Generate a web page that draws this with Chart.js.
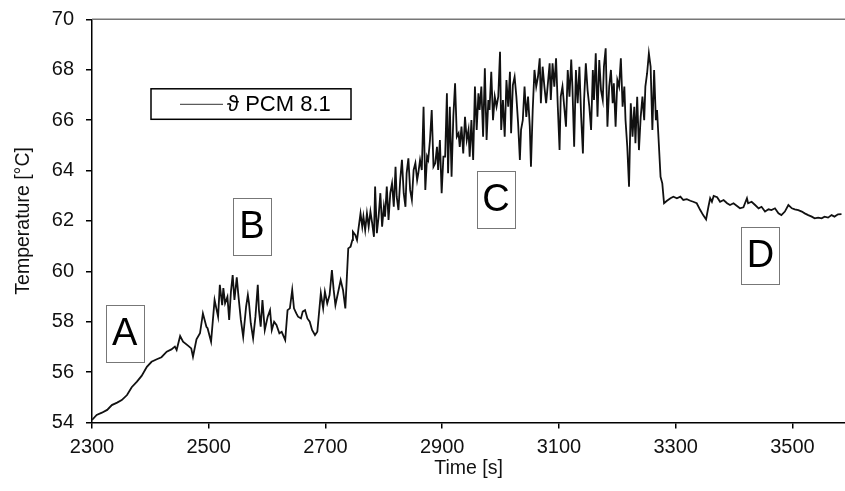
<!DOCTYPE html>
<html><head><meta charset="utf-8">
<script src="https://cdn.jsdelivr.net/npm/chart.js@4.4.1/dist/chart.umd.min.js"></script>
<style>html,body{margin:0;padding:0;background:#fff;}#wrap{width:845px;height:491px;}</style>
</head><body><div id="wrap"><canvas id="c" width="845" height="491"></canvas></div>
<script>
const seriesLabel = 'ϑ PCM 8.1';
const xTitle = 'Time [s]';
const yTitle = 'Temperature [°C]';
const xTicks = [2300, 2500, 2700, 2900, 3100, 3300, 3500];
const yTicks = [54, 56, 58, 60, 62, 64, 66, 68, 70];
const phaseLabels = ['A', 'B', 'C', 'D'];
const phaseTime = [2356, 2574, 2992, 3445];
const phaseTemp = [57.53, 61.78, 62.83, 60.63];

const timeS = [
2300,2308,2317,2326,2334,2343,2351,2360,2368,2377,2385,2394,2402,2411,2419,2428,2436,2442,2445,2451,2456,2465,2470,2473,2479,2485,2490,2496,
2498,2504,2510,2513,2516,2519,2523,2525,2528,2532,2535,2538,2541,2544,2548,2551,2555,2559,2564,2567,2569,2572,2576,2580,2584,2586,2589,2592,2596,
2601,2605,2608,2612,2616,2621,2625,2631,2635,2639,2643,2646,2650,2653,2658,2661,2665,2669,2673,2677,2682,2686,2692,2696,2699,2703,2707,2711,2714,
2717,2720,2726,2730,2734,2739,2743,2746,2747,2751,2754,2757,2760,2763,2765,2768,2771,2774,2777,2780,2783,2785,2788,2791,2794,2797,2800,2802,2805,
2808,2811,2814,2817,2820,2822,2825,2828,2831,2834,2837,2839,2842,2845,2848,2851,2854,2857,2859,2862,2865,2868,2871,2874,2876,2879,2882,2885,2888,
2891,2893,2896,2899,2902,2905,2908,2910,2913,2916,2919,2922,2925,2928,2930,2933,2936,2939,2942,2945,2947,2950,2953,2956,2959,2962,2964,2967,2970,
2973,2976,2979,2981,2984,2987,2990,2993,2996,2999,3001,3004,3007,3010,3013,3016,3018,3021,3024,3027,3030,3033,3035,3038,3041,3044,3047,3050,3052,
3055,3058,3061,3064,3067,3069,3072,3075,3078,3081,3084,3086,3089,3092,3095,3098,3101,3103,3106,3109,3112,3115,3118,3121,3123,3126,3129,3132,3135,
3138,3141,3143,3146,3149,3152,3155,3158,3160,3163,3166,3169,3172,3175,3177,3180,3183,3186,3189,3192,3194,3197,3200,3203,3206,3209,3212,3214,3217,
3220,3223,3226,3229,3231,3234,3237,3240,3243,3246,3248,3251,3254,3257,3260,3263,3266,3268,3271,3274,3277,3280,3285,3291,3296,3302,3308,3313,3319,
3325,3330,3336,3342,3347,3352,3356,3359,3362,3365,3371,3376,3382,3388,3393,3399,3405,3410,3416,3422,3424,3430,3436,3442,3447,3453,3459,3464,3470,
3476,3481,3487,3493,3499,3504,3510,3516,3521,3527,3533,3538,3544,3550,3555,3561,3567,3572,3578,3584
];
const tempC = [
54.10,54.30,54.39,54.50,54.69,54.79,54.89,55.09,55.40,55.62,55.85,56.21,56.41,56.51,56.59,56.81,56.90,57.01,56.88,57.43,57.21,57.04,56.94,56.61,57.30,57.54,58.33,57.80,
57.74,57.21,58.86,58.53,58.20,59.46,58.66,59.33,58.73,58.99,58.07,59.19,59.85,58.86,59.76,58.99,58.07,57.40,58.60,59.06,58.73,57.94,57.34,58.20,59.46,58.46,57.80,58.86,57.67,
58.20,58.46,57.67,58.00,57.87,57.54,57.60,57.27,58.46,58.53,59.26,58.53,58.33,58.20,58.13,58.40,58.46,58.13,58.00,57.67,57.47,57.60,59.13,58.53,59.19,58.73,59.06,60.05,59.26,
58.66,58.99,59.65,59.26,58.53,60.91,60.98,61.24,61.57,61.44,61.24,61.77,62.30,61.77,62.17,61.64,62.30,61.77,62.37,61.90,61.37,63.36,61.51,62.17,63.10,61.77,62.56,62.17,63.36,
62.04,63.10,63.49,62.56,64.15,62.96,62.43,63.62,64.42,63.10,62.56,63.89,64.48,63.23,62.83,64.02,64.29,63.62,63.89,64.42,64.02,66.53,63.23,64.55,64.42,65.21,66.40,64.15,64.29,
64.94,64.02,65.21,63.10,64.55,64.55,67.06,63.89,66.53,63.75,66.13,67.46,65.34,65.48,64.94,65.74,64.68,66.13,65.21,65.61,64.55,66.00,64.42,67.33,65.61,67.06,66.40,67.33,65.34,
68.06,65.21,66.80,66.40,67.92,66.00,66.93,66.53,66.93,68.71,65.61,66.80,65.34,67.59,66.53,67.92,65.48,67.39,67.72,66.93,65.87,64.42,65.61,66.00,67.33,66.13,66.93,65.74,64.15,
66.40,67.99,67.33,67.72,68.45,66.67,68.12,67.33,66.67,67.46,68.25,66.80,68.25,67.33,68.45,66.53,64.81,66.93,67.33,66.53,65.74,67.99,66.93,68.40,67.33,64.94,67.99,66.67,68.12,
66.13,64.68,66.80,68.25,67.19,66.53,65.61,67.99,66.80,68.65,66.13,68.38,67.19,66.80,68.12,68.85,65.74,67.33,67.99,66.67,67.46,65.74,67.59,67.33,68.45,66.53,67.33,66.00,64.94,
63.36,66.67,65.34,66.53,65.08,66.93,64.81,66.13,66.93,66.00,67.33,67.86,68.65,68.12,65.61,67.99,66.00,66.40,65.08,63.75,63.49,62.70,62.80,62.90,62.96,62.90,62.96,62.83,62.86,
62.80,62.76,62.70,62.43,62.23,62.06,62.56,62.90,62.76,62.99,62.94,62.76,62.83,62.70,62.63,62.70,62.59,62.50,62.54,62.90,62.70,62.76,62.63,62.50,62.56,62.37,62.46,62.43,62.50,
62.30,62.23,62.37,62.63,62.50,62.46,62.43,62.37,62.30,62.23,62.17,62.10,62.13,62.10,62.17,62.13,62.23,62.17,62.26,62.27
];

const FONT = '"Liberation Sans", Arial, Helvetica, sans-serif';

const overlay = {
  id: 'overlay',
  afterDatasetsDraw(chart) {
    const {ctx, chartArea: a, scales: {x, y}} = chart;
    ctx.save();
    ctx.strokeStyle = '#777';
    ctx.lineWidth = 1.5;
    ctx.beginPath();
    ctx.moveTo(a.left, a.top);
    ctx.lineTo(a.right, a.top);
    ctx.stroke();
    ctx.font = '38px ' + FONT;
    ctx.textAlign = 'center';
    ctx.textBaseline = 'middle';
    phaseLabels.forEach((t, i) => {
      const cx = x.getPixelForValue(phaseTime[i]);
      const cy = y.getPixelForValue(phaseTemp[i]);
      ctx.strokeStyle = '#777';
      ctx.lineWidth = 1;
      ctx.strokeRect(Math.round(cx - 19) + 0.5, Math.round(cy - 28.5) + 0.5, 38, 57);
      ctx.fillStyle = '#000';
      ctx.fillText(t, cx, cy + 1);
    });
    const lx = a.left + 59, ly = a.top + 69.5;
    ctx.strokeStyle = '#000';
    ctx.lineWidth = 1.5;
    ctx.strokeRect(lx, ly, 200, 30.5);
    const my = ly + 15.5;
    ctx.strokeStyle = '#333';
    ctx.lineWidth = 1;
    ctx.beginPath();
    ctx.moveTo(lx + 29, my);
    ctx.lineTo(lx + 72, my);
    ctx.stroke();
    ctx.font = '22px ' + FONT;
    ctx.textAlign = 'left';
    ctx.fillStyle = '#000';
    ctx.fillText(chart.data.datasets[0].label, lx + 76, my + 1);
    ctx.restore();
  }
};

new Chart(document.getElementById('c'), {
  type: 'line',
  data: {
    datasets: [{
      label: seriesLabel,
      data: timeS.map((t, i) => ({x: t, y: tempC[i]})),
      borderColor: '#111',
      borderWidth: 1.8,
      pointRadius: 0,
      tension: 0,
      fill: false
    }]
  },
  options: {
    responsive: false,
    animation: false,
    layout: {padding: {top: 19.3, right: 0, left: 0, bottom: 0}},
    plugins: {legend: {display: false}, tooltip: {enabled: false}},
    scales: {
      x: {
        type: 'linear',
        min: 2300,
        max: 3590,
        afterBuildTicks: s => { s.ticks = xTicks.map(v => ({value: v})); },
        afterFit: s => { s.height = 68.5; },
        grid: {display: true, drawOnChartArea: false, drawTicks: true, tickLength: 6, color: '#000', lineWidth: 1.5},
        border: {display: true, color: '#000', width: 1.5},
        ticks: {font: {size: 20, family: FONT}, color: '#111', padding: 7, maxRotation: 0, callback: v => String(v)},
        title: {display: true, text: xTitle, font: {size: 19.5, family: FONT}, color: '#111', padding: {top: 0, bottom: 11}}
      },
      y: {
        min: 54,
        max: 70,
        afterBuildTicks: s => { s.ticks = yTicks.map(v => ({value: v})); },
        afterFit: s => { s.width = 92; },
        grid: {display: true, drawOnChartArea: false, drawTicks: true, tickLength: 6, color: '#000', lineWidth: 1.5},
        border: {display: true, color: '#000', width: 1.5},
        ticks: {font: {size: 20, family: FONT, lineHeight: 0.3}, color: '#111', padding: 12, callback: v => String(v)},
        title: {display: true, text: yTitle, font: {size: 19.5, family: FONT}, color: '#111', padding: {top: 12, bottom: 0}}
      }
    }
  },
  plugins: [overlay]
});
</script>
</body></html>
